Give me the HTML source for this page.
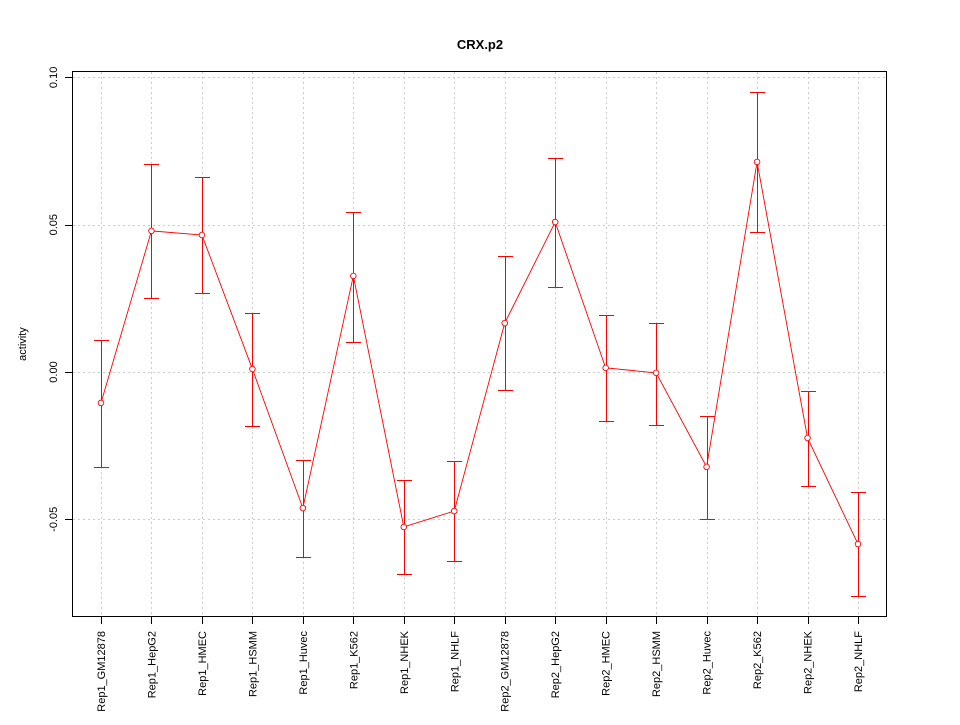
<!DOCTYPE html>
<html><head><meta charset="utf-8"><style>
body{margin:0;background:#fff}
svg text{font-family:"Liberation Sans",sans-serif}
</style></head><body>
<svg id="chart" width="960" height="720" xmlns="http://www.w3.org/2000/svg">
<rect width="960" height="720" fill="#fff"/>
<text x="480" y="49" text-anchor="middle" font-size="13" font-weight="bold">CRX.p2</text>
<text transform="translate(26,344) rotate(-90)" text-anchor="middle" font-size="11">activity</text>
<g id="grid" shape-rendering="crispEdges"></g><g id="axes" shape-rendering="crispEdges"></g><g id="bars" shape-rendering="crispEdges"></g><g id="series"></g>
<rect x="72.5" y="71.5" width="814" height="545" fill="none" stroke="#000" shape-rendering="crispEdges"/>
</svg>
<script>
const categories=["Rep1_GM12878","Rep1_HepG2","Rep1_HMEC","Rep1_HSMM","Rep1_Huvec","Rep1_K562","Rep1_NHEK","Rep1_NHLF","Rep2_GM12878","Rep2_HepG2","Rep2_HMEC","Rep2_HSMM","Rep2_Huvec","Rep2_K562","Rep2_NHEK","Rep2_NHLF"];
const values=[-0.0105,0.0479,0.0465,0.001,-0.0462,0.0326,-0.0526,-0.0472,0.0166,0.0509,0.0014,-0.0003,-0.0322,0.0713,-0.0224,-0.0584];
const upper=[0.0109,0.0706,0.0662,0.020,-0.0299,0.0543,-0.0367,-0.0302,0.0394,0.0726,0.0193,0.0166,-0.0149,0.095,-0.0064,-0.0407];
const lower=[-0.0322,0.0251,0.0268,-0.0183,-0.0628,0.0102,-0.0686,-0.0642,-0.0061,0.0289,-0.0166,-0.018,-0.0499,0.0475,-0.0387,-0.076];
const yTicks=[-0.05,0.00,0.05,0.10];
const yTickLabels=["-0.05","0.00","0.05","0.10"];
const NS="http://www.w3.org/2000/svg";
const x=i=>101+i*(858-101)/(categories.length-1);
const y=v=>372-v*2946;
function mk(t,a,p){const e=document.createElementNS(NS,t);for(const k in a)e.setAttribute(k,a[k]);p.appendChild(e);return e;}
const grid=document.getElementById('grid'),axes=document.getElementById('axes'),bars=document.getElementById('bars'),ser=document.getElementById('series');
categories.forEach((c,i)=>{
 const gx=Math.round(x(i))+0.5;
 const g=mk('line',{x1:gx,x2:gx,y1:72,y2:616,stroke:'#ccc','stroke-dasharray':'2,3'},grid);
 
 
 const t=mk('line',{x1:gx,x2:gx,y1:617,y2:624,stroke:'#000'},axes);
 
 
 const l=mk('text',{transform:`translate(${x(i)+4},631) rotate(-90)`,'text-anchor':'end','font-size':'11'},axes);
 l.textContent=c;
 
 
});
yTicks.forEach((v,i)=>{
 const gy=Math.round(y(v))+0.5;
 const g=mk('line',{x1:73,x2:886,y1:gy,y2:gy,stroke:'#ccc','stroke-dasharray':'2,3'},grid);
 
 
 const t=mk('line',{x1:65,x2:72,y1:gy,y2:gy,stroke:'#000'},axes);
 
 
 const l=mk('text',{transform:`translate(57,${y(v)}) rotate(-90)`,'text-anchor':'middle','font-size':'11'},axes);
 l.textContent=yTickLabels[i];
 
 
});
const line=mk('polyline',{points:values.map((v,i)=>x(i)+','+y(v)).join(' '),fill:'none',stroke:'#f00','stroke-width':0.9},ser);


values.forEach((v,i)=>{
 const cx=Math.round(x(i));
 const yt=Math.round(y(upper[i])), yb=Math.round(y(lower[i]));
 const s=mk('rect',{x:cx,y:yt,width:1,height:yb-yt+1,fill:'#ff0000'},bars);
 
 
 const e=mk('path',{d:`M${cx-7},${yt+0.5}H${cx+8}M${cx-7},${yb+0.5}H${cx+8}`,stroke:'#ff0000',fill:'none','stroke-width':1},bars);
 
 
 const p=mk('circle',{cx:x(i),cy:y(v),r:2.8,fill:'#fff',stroke:'#f00','stroke-width':0.9},ser);
 
 
});
</script>
</body></html>
